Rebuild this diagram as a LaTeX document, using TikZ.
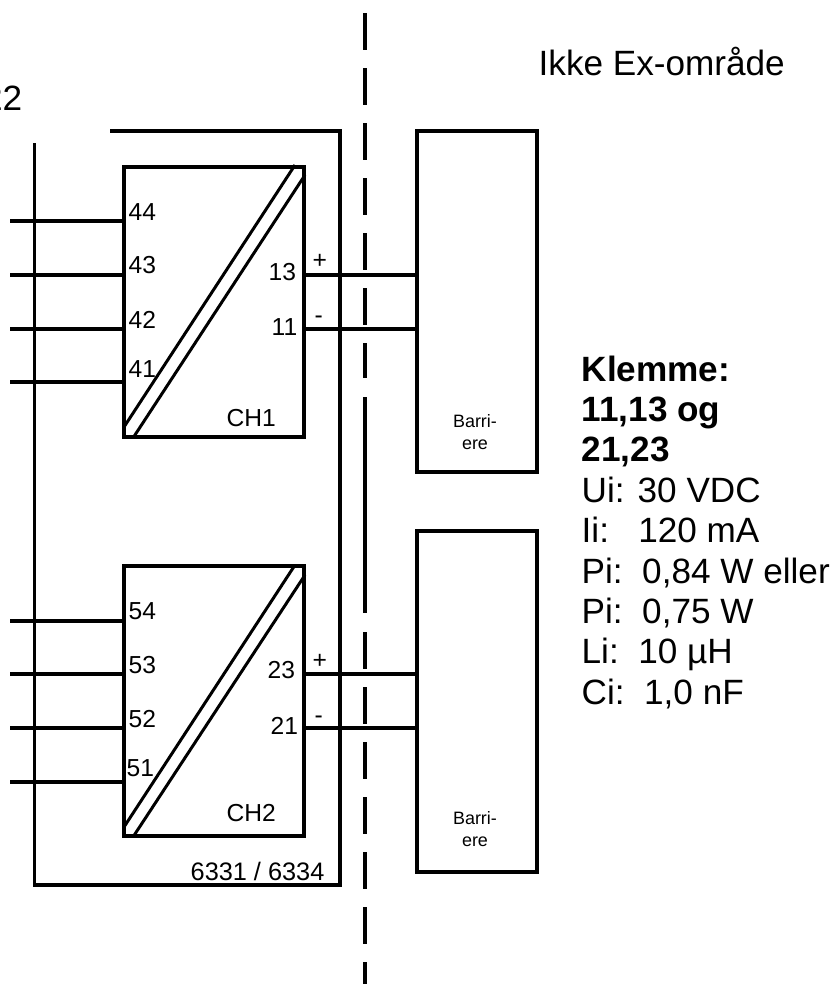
\documentclass[tikz,border=0pt]{standalone}
\usepackage{fontspec}
\setmainfont{Liberation Sans}
\pgfdeclarelayer{edgelayer}
\pgfdeclarelayer{nodelayer}
\pgfsetlayers{edgelayer,nodelayer,main}
\tikzstyle{none}=[inner sep=0pt]
\tikzstyle{wire}=[-,draw=black,line width=0.9pt]
\tikzstyle{slash}=[-,draw=black,line width=0.85pt]
\tikzstyle{zone}=[-,draw=black,line width=0.9pt]
\tikzstyle{zonedash}=[style=zone,dash pattern=on 0.365cm off 0.185cm]
\tikzstyle{block}=[draw=black,line width=0.9pt,inner sep=0pt,outer sep=0pt,minimum width=1.8cm,minimum height=2.7cm]
\tikzstyle{barrier}=[draw=black,line width=0.9pt,inner sep=0pt,outer sep=0pt,minimum width=1.2cm,minimum height=3.41cm]
\tikzstyle{big}=[inner sep=0pt,anchor=base west,font=\fontsize{10}{11.49}\selectfont]
\tikzstyle{port}=[inner sep=0pt,anchor=base west,font=\fontsize{7}{8.4}\selectfont]
\tikzstyle{tag}=[inner sep=0pt,anchor=base west,font=\fontsize{7.2}{8.6}\selectfont]
\tikzstyle{small}=[inner sep=0pt,anchor=base,font=\fontsize{5.1}{6.2}\selectfont]

\begin{document}
\begin{tikzpicture}
	\useasboundingbox (0, 0) rectangle (8.35, -9.84);
	\begin{pgfonlayer}{nodelayer}
		% blocks and barriers
		\node [style=block] (0) at (2.14, -3.02) {};
		\node [style=block] (1) at (2.14, -7.01) {};
		\node [style=barrier] (2) at (4.77, -3.015) {};
		\node [style=barrier] (3) at (4.77, -7.015) {};
		% frame
		\node [style=none] (4) at (1.115, -1.31) {};
		\node [style=none] (5) at (3.4, -1.31) {};
		\node [style=none] (6) at (3.4, -8.85) {};
		\node [style=none] (7) at (0.345, -8.85) {};
		\node [style=none] (8) at (0.345, -1.445) {};
		% zone line
		\node [style=none] (9) at (3.65, -0.13) {};
		\node [style=none] (10) at (3.65, -3.78) {};
		\node [style=none] (11) at (3.65, -3.97) {};
		\node [style=none] (12) at (3.65, -6.13) {};
		\node [style=none] (13) at (3.65, -6.32) {};
		\node [style=none] (14) at (3.65, -9.84) {};
		% left wires
		\node [style=none] (15) at (0.1, -2.21) {};
		\node [style=none] (16) at (1.24, -2.21) {};
		\node [style=none] (17) at (0.1, -2.75) {};
		\node [style=none] (18) at (1.24, -2.75) {};
		\node [style=none] (19) at (0.1, -3.29) {};
		\node [style=none] (20) at (1.24, -3.29) {};
		\node [style=none] (21) at (0.1, -3.82) {};
		\node [style=none] (22) at (1.24, -3.82) {};
		\node [style=none] (23) at (0.1, -6.21) {};
		\node [style=none] (24) at (1.24, -6.21) {};
		\node [style=none] (25) at (0.1, -6.74) {};
		\node [style=none] (26) at (1.24, -6.74) {};
		\node [style=none] (27) at (0.1, -7.28) {};
		\node [style=none] (28) at (1.24, -7.28) {};
		\node [style=none] (29) at (0.1, -7.82) {};
		\node [style=none] (30) at (1.24, -7.82) {};
		% right wires
		\node [style=none] (31) at (3.04, -2.75) {};
		\node [style=none] (32) at (4.17, -2.75) {};
		\node [style=none] (33) at (3.04, -3.29) {};
		\node [style=none] (34) at (4.17, -3.29) {};
		\node [style=none] (35) at (3.04, -6.74) {};
		\node [style=none] (36) at (4.17, -6.74) {};
		\node [style=none] (37) at (3.04, -7.28) {};
		\node [style=none] (38) at (4.17, -7.28) {};
		% slashes
		\node [style=none] (39) at (1.24, -4.27) {};
		\node [style=none] (40) at (2.95, -1.65) {};
		\node [style=none] (41) at (1.33, -4.38) {};
		\node [style=none] (42) at (3.05, -1.75) {};
		\node [style=none] (43) at (1.24, -8.27) {};
		\node [style=none] (44) at (2.95, -5.65) {};
		\node [style=none] (45) at (1.33, -8.37) {};
		\node [style=none] (46) at (3.05, -5.75) {};
		% texts
		\node [style=big,anchor=base east] (47) at (0.23, -1.105) {22};
		\node [style=big] (48) at (5.38, -0.75) {Ikke Ex-område};
		\node [style=port] (49) at (1.28, -2.2) {44};
		\node [style=port] (50) at (1.28, -2.73) {43};
		\node [style=port] (51) at (1.28, -3.28) {42};
		\node [style=port] (52) at (1.28, -3.77) {41};
		\node [style=port] (53) at (2.68, -2.8) {13};
		\node [style=port] (54) at (2.71, -3.35) {11};
		\node [style=port] (55) at (3.12, -2.68) {+};
		\node [style=port] (56) at (3.14, -3.23) {-};
		\node [style=port] (57) at (2.26, -4.26) {CH1};
		\node [style=port] (58) at (1.28, -6.19) {54};
		\node [style=port] (59) at (1.28, -6.73) {53};
		\node [style=port] (60) at (1.28, -7.27) {52};
		\node [style=port] (61) at (1.26, -7.76) {51};
		\node [style=port] (62) at (2.67, -6.78) {23};
		\node [style=port] (63) at (2.7, -7.34) {21};
		\node [style=port] (64) at (3.12, -6.68) {+};
		\node [style=port] (65) at (3.14, -7.23) {-};
		\node [style=port] (66) at (2.26, -8.21) {CH2};
		\node [style=tag] (67) at (1.9, -8.8) {6331 / 6334};
		\node [style=small] (68) at (4.75, -4.27) {Barri-};
		\node [style=small] (69) at (4.75, -4.49) {ere};
		\node [style=small] (70) at (4.75, -8.24) {Barri-};
		\node [style=small] (71) at (4.75, -8.46) {ere};
		\node [style=big,align=left,anchor=north west] (72) at (5.81, -3.55) {\textbf{Klemme:}\\\textbf{11,13 og}\\\textbf{21,23}\\Ui: 30 VDC\\Ii:\ \ \ 120 mA\\Pi:\ \ 0,84 W eller\\Pi:\ \ 0,75 W\\Li:\ \ 10 µH\\Ci:\ \ 1,0 nF};
	\end{pgfonlayer}
	\begin{pgfonlayer}{edgelayer}
		\draw [style=wire,line cap=rect] (4.center) to (5.center) to (6.center) to (7.center) to (8.center);
		\draw [style=zonedash] (9.center) to (10.center);
		\draw [style=zone] (11.center) to (12.center);
		\draw [style=zonedash] (13.center) to (14.center);
		\draw [style=wire] (15.center) to (16.center);
		\draw [style=wire] (17.center) to (18.center);
		\draw [style=wire] (19.center) to (20.center);
		\draw [style=wire] (21.center) to (22.center);
		\draw [style=wire] (23.center) to (24.center);
		\draw [style=wire] (25.center) to (26.center);
		\draw [style=wire] (27.center) to (28.center);
		\draw [style=wire] (29.center) to (30.center);
		\draw [style=wire] (31.center) to (32.center);
		\draw [style=wire] (33.center) to (34.center);
		\draw [style=wire] (35.center) to (36.center);
		\draw [style=wire] (37.center) to (38.center);
		\draw [style=slash] (39.center) to (40.center);
		\draw [style=slash] (41.center) to (42.center);
		\draw [style=slash] (43.center) to (44.center);
		\draw [style=slash] (45.center) to (46.center);
	\end{pgfonlayer}
\end{tikzpicture}
\end{document}
